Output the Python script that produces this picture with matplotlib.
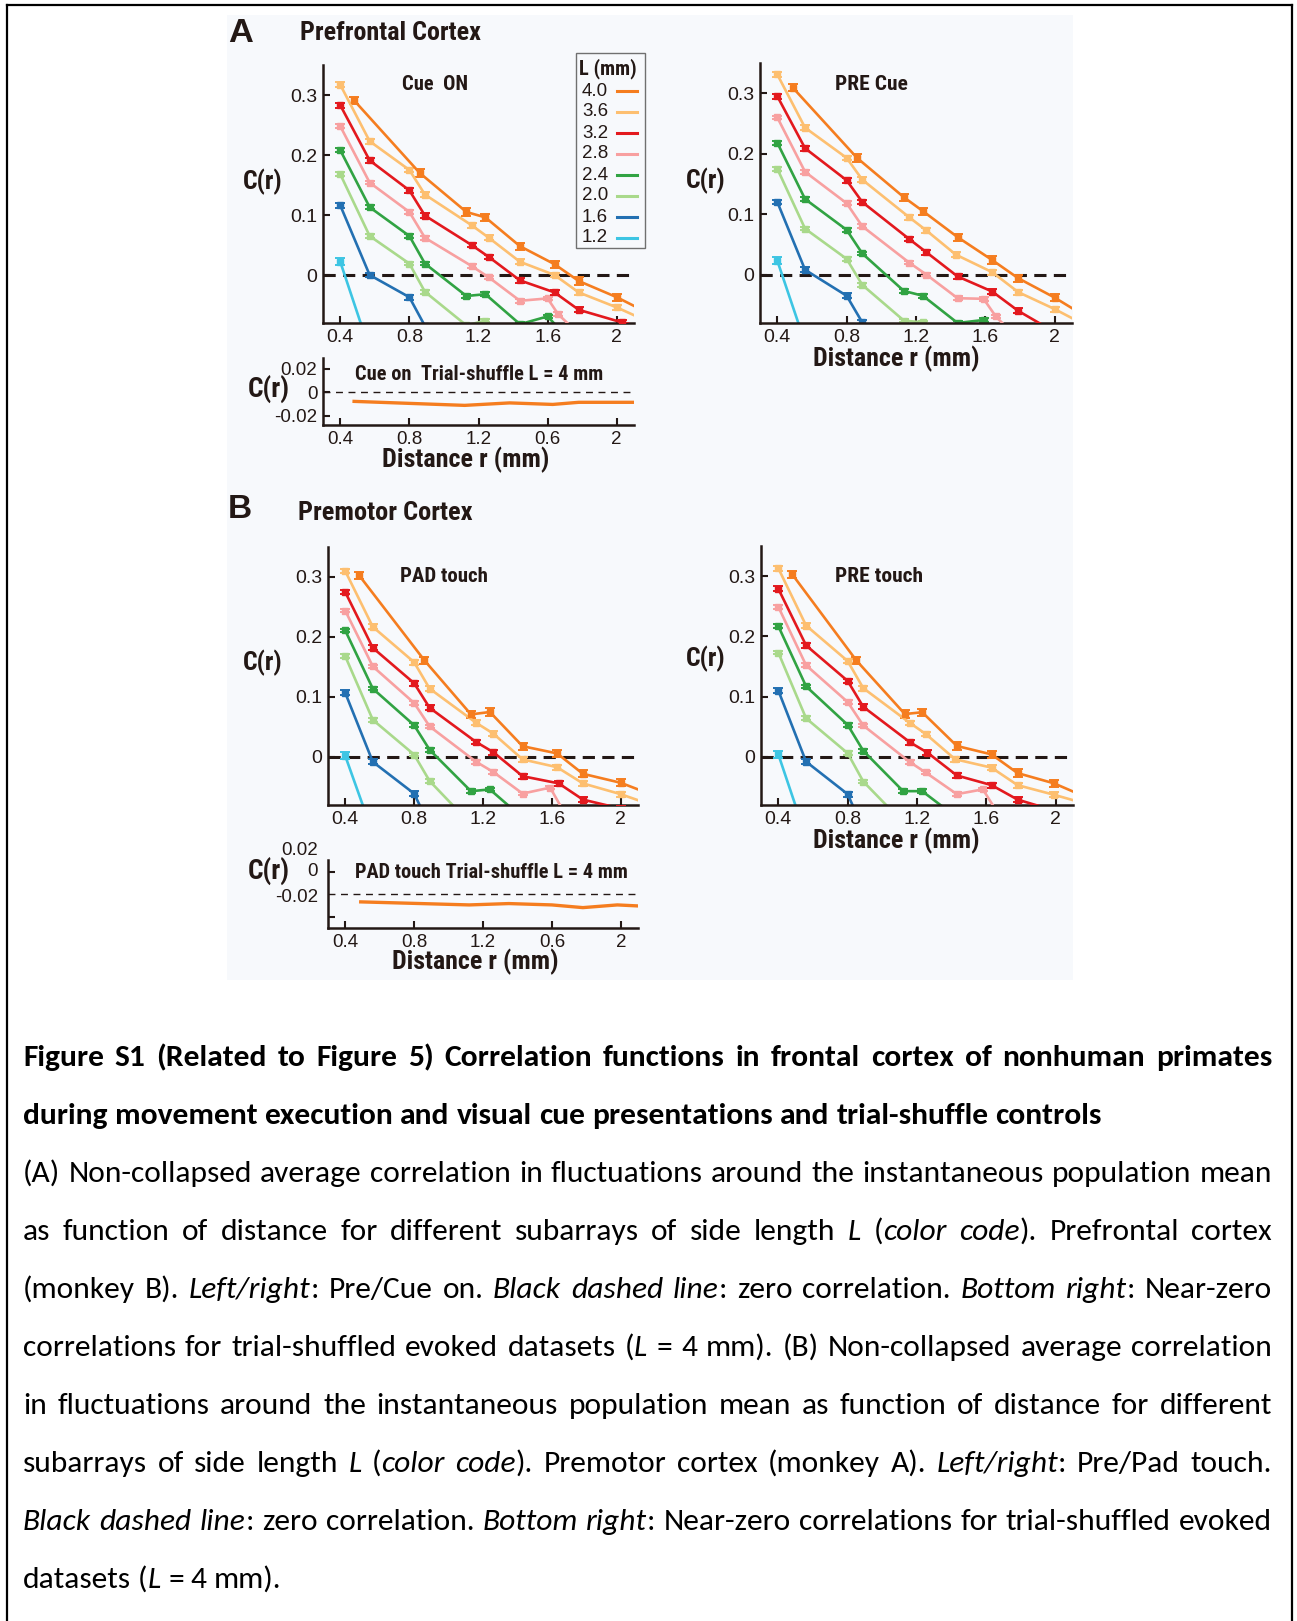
import os
import matplotlib
matplotlib.use('Agg')
import matplotlib.pyplot as plt
from matplotlib import font_manager
from matplotlib.font_manager import FontProperties
from matplotlib.patches import Rectangle
from matplotlib.lines import Line2D

W, H, DPI = 1297, 1621, 100

# ---- data ----
L_VALUES = ['4.0', '3.6', '3.2', '2.8', '2.4', '2.0', '1.6', '1.2']
L_COLORS = ['#f57d1f', '#fdbf70', '#e3191e', '#f8a0a0', '#31a343', '#a9d98b', '#2370b2', '#3dc5e3']
L_ERR = [0.006, 0.004, 0.004, 0.003, 0.003, 0.003, 0.004, 0.006]

X_TICKS = [0.4, 0.8, 1.2, 1.6, 2.0]
X_LABELS = ['0.4', '0.8', '1.2', '1.6', '2']
X_LABELS_SHUF = ['0.4', '0.8', '1.2', '0.6', '2']

CUE_ON_R = [
    [0.48, 0.86, 1.13, 1.24, 1.44, 1.64, 1.78, 2.0, 2.2],
    [0.4, 0.57, 0.8, 0.89, 1.16, 1.26, 1.44, 1.64, 1.78, 2.0, 2.2],
    [0.4, 0.57, 0.8, 0.89, 1.16, 1.26, 1.44, 1.64, 1.78, 2.03, 2.2],
    [0.4, 0.57, 0.8, 0.89, 1.16, 1.26, 1.44, 1.6, 1.66, 1.75],
    [0.4, 0.57, 0.8, 0.89, 1.13, 1.24, 1.44, 1.6, 1.7],
    [0.4, 0.57, 0.8, 0.89, 1.13, 1.24, 1.35],
    [0.4, 0.57, 0.8, 0.89],
    [0.4, 0.57],
]
CUE_ON_C = [
    [0.291, 0.170, 0.105, 0.096, 0.048, 0.018, -0.010, -0.037, -0.066],
    [0.317, 0.223, 0.175, 0.134, 0.083, 0.062, 0.022, 0.0, -0.029, -0.054, -0.080],
    [0.283, 0.191, 0.141, 0.099, 0.050, 0.030, -0.009, -0.029, -0.058, -0.079, -0.090],
    [0.248, 0.154, 0.105, 0.062, 0.015, -0.004, -0.043, -0.039, -0.065, -0.090],
    [0.208, 0.113, 0.065, 0.019, -0.035, -0.032, -0.082, -0.069, -0.100],
    [0.168, 0.065, 0.019, -0.028, -0.084, -0.076, -0.100],
    [0.116, 0.0, -0.037, -0.085],
    [0.022, -0.125],
]

PRE_CUE_R = [
    [0.49, 0.86, 1.13, 1.24, 1.44, 1.64, 1.79, 2.0, 2.2],
    [0.4, 0.56, 0.8, 0.89, 1.16, 1.26, 1.43, 1.64, 1.79, 2.0, 2.2],
    [0.4, 0.56, 0.8, 0.89, 1.16, 1.26, 1.44, 1.64, 1.79, 2.0],
    [0.4, 0.56, 0.8, 0.89, 1.16, 1.26, 1.44, 1.59, 1.66, 1.8],
    [0.4, 0.56, 0.8, 0.89, 1.13, 1.24, 1.44, 1.59, 1.7],
    [0.4, 0.56, 0.8, 0.89, 1.13, 1.24, 1.44],
    [0.4, 0.56, 0.8, 0.89],
    [0.4, 0.56],
]
PRE_CUE_C = [
    [0.309, 0.193, 0.128, 0.105, 0.062, 0.024, -0.006, -0.038, -0.073],
    [0.331, 0.243, 0.193, 0.157, 0.095, 0.073, 0.033, 0.004, -0.029, -0.057, -0.087],
    [0.295, 0.209, 0.156, 0.120, 0.059, 0.037, -0.003, -0.028, -0.060, -0.095],
    [0.260, 0.170, 0.118, 0.080, 0.020, 0.0, -0.039, -0.040, -0.069, -0.110],
    [0.218, 0.125, 0.074, 0.035, -0.027, -0.035, -0.080, -0.075, -0.100],
    [0.175, 0.076, 0.026, -0.017, -0.076, -0.079, -0.120],
    [0.120, 0.008, -0.035, -0.079],
    [0.023, -0.113],
]

PAD_R = [
    [0.48, 0.86, 1.13, 1.24, 1.43, 1.63, 1.78, 2.0, 2.2],
    [0.4, 0.56, 0.8, 0.89, 1.16, 1.26, 1.43, 1.63, 1.78, 2.0, 2.2],
    [0.4, 0.56, 0.8, 0.89, 1.16, 1.26, 1.43, 1.64, 1.78, 2.0],
    [0.4, 0.56, 0.8, 0.89, 1.16, 1.26, 1.43, 1.59, 1.7],
    [0.4, 0.56, 0.8, 0.89, 1.13, 1.24, 1.44],
    [0.4, 0.56, 0.8, 0.89, 1.13],
    [0.4, 0.56, 0.8, 0.89],
    [0.4, 0.56],
]
PAD_C = [
    [0.303, 0.161, 0.071, 0.075, 0.018, 0.006, -0.028, -0.043, -0.065],
    [0.310, 0.217, 0.158, 0.114, 0.057, 0.039, -0.004, -0.017, -0.044, -0.062, -0.082],
    [0.275, 0.182, 0.123, 0.082, 0.025, 0.008, -0.032, -0.044, -0.071, -0.086],
    [0.244, 0.151, 0.090, 0.051, -0.008, -0.025, -0.061, -0.051, -0.107],
    [0.211, 0.114, 0.053, 0.012, -0.057, -0.054, -0.104],
    [0.168, 0.062, 0.004, -0.040, -0.112],
    [0.107, -0.008, -0.061, -0.115],
    [0.002, -0.127],
]

PRE_TOUCH_R = [
    [0.48, 0.85, 1.13, 1.23, 1.43, 1.63, 1.78, 1.99, 2.2],
    [0.4, 0.56, 0.8, 0.89, 1.16, 1.25, 1.42, 1.63, 1.78, 1.99, 2.2],
    [0.4, 0.56, 0.8, 0.89, 1.16, 1.26, 1.43, 1.63, 1.78, 2.0],
    [0.4, 0.56, 0.8, 0.89, 1.16, 1.25, 1.43, 1.58, 1.7],
    [0.4, 0.56, 0.8, 0.89, 1.12, 1.23, 1.44],
    [0.4, 0.56, 0.8, 0.89, 1.13],
    [0.4, 0.56, 0.8, 0.89],
    [0.4, 0.56],
]
PRE_TOUCH_C = [
    [0.303, 0.160, 0.071, 0.074, 0.018, 0.004, -0.027, -0.044, -0.070],
    [0.313, 0.218, 0.159, 0.114, 0.056, 0.038, -0.004, -0.018, -0.047, -0.063, -0.080],
    [0.279, 0.185, 0.126, 0.083, 0.024, 0.007, -0.031, -0.047, -0.071, -0.090],
    [0.249, 0.152, 0.091, 0.052, -0.009, -0.026, -0.062, -0.054, -0.109],
    [0.217, 0.117, 0.053, 0.010, -0.057, -0.057, -0.103],
    [0.173, 0.064, 0.006, -0.041, -0.112],
    [0.110, -0.008, -0.062, -0.120],
    [0.004, -0.133],
]

SHUF_A_R = [0.48, 1.12, 1.38, 1.63, 1.78, 2.1]
SHUF_A_C = [-0.0079, -0.0113, -0.0092, -0.0105, -0.0087, -0.0087]
SHUF_B_R = [0.49, 1.12, 1.35, 1.6, 1.78, 1.98, 2.1]
SHUF_B_C = [-0.0068, -0.0095, -0.0083, -0.0095, -0.0119, -0.0095, -0.0104]

CAPTION = [
    (True, True, 'Figure S1 (Related to Figure 5) Correlation functions in frontal cortex of nonhuman primates'),
    (True, False, 'during movement execution and visual cue presentations and trial-shuffle controls'),
    (False, True, '(A) Non-collapsed average correlation in fluctuations around the instantaneous population mean'),
    (False, True, 'as function of distance for different subarrays of side length *L* (*color code*). Prefrontal cortex'),
    (False, True, '(monkey B). *Left/right*: Pre/Cue on. *Black dashed line*: zero correlation. *Bottom right*: Near-zero'),
    (False, True, 'correlations for trial-shuffled evoked datasets (*L* = 4 mm). (B) Non-collapsed average correlation'),
    (False, True, 'in fluctuations around the instantaneous population mean as function of distance for different'),
    (False, True, 'subarrays of side length *L* (*color code*). Premotor cortex (monkey A). *Left/right*: Pre/Pad touch.'),
    (False, True, '*Black dashed line*: zero correlation. *Bottom right*: Near-zero correlations for trial-shuffled evoked'),
    (False, False, 'datasets (*L* = 4 mm).'),
]

# ---- fonts / style ----
names = {f.name for f in font_manager.fontManager.ttflist}
files = [f.fname for f in font_manager.fontManager.ttflist]
NARROW_FP = None
for pref in ['liberationsansnarrow-bold.', 'notosans-condensedbold.', 'robotocondensed-bold.',
             'arialnarrowbold', 'dejavusanscondensed-bold.']:
    hits = [p for p in files if os.path.basename(p).lower().startswith(pref)]
    if hits:
        NARROW_FP = FontProperties(fname=hits[0])
        break
if NARROW_FP is None:
    NARROW_FP = FontProperties(family='Liberation Sans', weight='bold')

REG = 'Liberation Sans'
CAP_FONT = 'Carlito' if 'Carlito' in names else ('Lato' if 'Lato' in names else 'DejaVu Sans')
INK = '#231815'
BG = '#f7f9fc'
TICK_SIZE = 14
plt.rcParams['font.family'] = [REG, 'DejaVu Sans']

fig = plt.figure(figsize=(W / DPI, H / DPI), dpi=DPI)
fig.patch.set_facecolor('white')
renderer = fig.canvas.get_renderer()


def fx(x):
    return x / W


def fy(y):
    return 1 - y / H


def px_axes(x0, y0, x1, y1):
    ax = fig.add_axes([fx(x0), fy(y1), (x1 - x0) / W, (y1 - y0) / H])
    ax.patch.set_alpha(0)
    return ax


def label(x, y, s, width, size=14, ha='center', narrow=True):
    if narrow:
        fp = NARROW_FP.copy()
    else:
        fp = FontProperties(family=REG, weight='bold')
    fp.set_size(size)
    t = fig.text(fx(x), fy(y), s, fontproperties=fp, ha=ha, va='center', color=INK)
    w = t.get_window_extent(renderer).width
    t.set_fontsize(size * width / w)
    return t


def style_axes(ax, yticks, ylabels, xlabels, size=TICK_SIZE):
    for s in ['top', 'right']:
        ax.spines[s].set_visible(False)
    for s in ['left', 'bottom']:
        ax.spines[s].set_color(INK)
        ax.spines[s].set_linewidth(1.8)
    ax.set_xticks(X_TICKS)
    ax.set_xticklabels(xlabels)
    ax.set_yticks(yticks)
    ax.set_yticklabels(ylabels)
    ax.tick_params(direction='in', length=5, width=1.5, color=INK, labelcolor=INK, labelsize=size)
    ax.tick_params(axis='x', pad=4)
    ax.tick_params(axis='y', pad=4)


def main_panel(box, rs, cs):
    ax = px_axes(*box)
    ax.set_xlim(0.3, 2.1)
    ax.set_ylim(-0.08, 0.35)
    ax.axhline(0, color=INK, lw=2.2, ls=(0, (4, 2.4)), zorder=1)
    for i in reversed(range(len(L_VALUES))):
        ax.errorbar(rs[i], cs[i], yerr=L_ERR[i], color=L_COLORS[i], lw=1.9, marker='s', ms=4.4,
                    capsize=3.5, capthick=1.4, elinewidth=1.4, zorder=2 + (8 - i) * 0.1)
    style_axes(ax, [0, 0.1, 0.2, 0.3], ['0', '0.1', '0.2', '0.3'], X_LABELS)
    return ax


def shuffle_panel(box, rs, cs, ylim):
    ax = px_axes(*box)
    ax.set_xlim(0.3, 2.1)
    ax.set_ylim(*ylim)
    ax.axhline(0, color=INK, lw=1.0, ls=(0, (5, 4)), zorder=1)
    ax.plot(rs, cs, color=L_COLORS[0], lw=2.4, zorder=2)
    return ax


# background of the figure image and page frame
fig.add_artist(Rectangle((fx(227), fy(980)), (1073 - 227) / W, (980 - 15) / H,
                         transform=fig.transFigure, facecolor=BG, edgecolor='none', zorder=-1))
for xs, ys in [([7, 7], [5, 1630]), ([1292, 1292], [5, 1630]), ([7, 1292], [5, 5])]:
    fig.add_artist(Line2D([fx(v) for v in xs], [fy(v) for v in ys], transform=fig.transFigure,
                          color='black', lw=1.6))

# ---- panel A ----
main_panel((323, 65, 634, 323), CUE_ON_R, CUE_ON_C)
main_panel((760, 63, 1072, 323), PRE_CUE_R, PRE_CUE_C)
ax = shuffle_panel((323, 358, 634, 425), SHUF_A_R, SHUF_A_C, (-0.028, 0.029))
style_axes(ax, [-0.02, 0, 0.02], ['-0.02', '0', '0.02'], X_LABELS_SHUF, size=13.5)

label(228, 34, 'A', width=25, ha='left', narrow=False)
label(300, 33, 'Prefrontal Cortex', width=182, ha='left')
label(402, 84, 'Cue  ON', width=66, ha='left')
label(835, 84, 'PRE Cue', width=73, ha='left')
label(263, 182, 'C(r)', width=40)
label(706, 181, 'C(r)', width=40)
label(896, 359, 'Distance r (mm)', width=167)
label(269, 390, 'C(r)', width=42)
label(355, 375, 'Cue on  Trial-shuffle L = 4 mm', width=248, ha='left')
label(466, 460, 'Distance r (mm)', width=168)

# legend
fig.add_artist(Rectangle((fx(576), fy(248)), (645 - 576) / W, (248 - 53) / H, transform=fig.transFigure,
                         facecolor='none', edgecolor='#707070', lw=1.0))
label(608, 69, 'L (mm)', width=58)
for i, (lab, col) in enumerate(zip(L_VALUES, L_COLORS)):
    y = 91 + 21 * i
    fig.text(fx(608), fy(y), lab, ha='right', va='center', fontsize=13.5, family=REG, color=INK)
    fig.add_artist(Line2D([fx(617), fx(637)], [fy(y), fy(y)], transform=fig.transFigure,
                          color=col, lw=2.2))

# ---- panel B ----
main_panel((328, 547, 638, 805), PAD_R, PAD_C)
main_panel((761, 546, 1073, 805), PRE_TOUCH_R, PRE_TOUCH_C)
ax = shuffle_panel((328, 860, 638, 928), SHUF_B_R, SHUF_B_C, (-0.030, 0.0304))
style_axes(ax, [-0.02, 0.02], ['', ''], X_LABELS_SHUF, size=13.5)
for s, y in [('0.02', 850.7), ('0', 871.7), ('-0.02', 898)]:
    fig.text(fx(318), fy(y), s, ha='right', va='center', fontsize=13.5, family=REG, color=INK)

label(228, 509, 'B', width=24, ha='left', narrow=False)
label(298, 513, 'Premotor Cortex', width=175, ha='left')
label(400, 576, 'PAD touch', width=88, ha='left')
label(835, 576, 'PRE touch', width=88, ha='left')
label(263, 663, 'C(r)', width=40)
label(706, 659, 'C(r)', width=40)
label(896, 841, 'Distance r (mm)', width=167)
label(269, 872, 'C(r)', width=42)
label(355, 872, 'PAD touch Trial-shuffle L = 4 mm', width=273, ha='left')
label(475, 962, 'Distance r (mm)', width=167)

# ---- caption (justified) ----
CAP_LEFT, CAP_RIGHT, CAP_BASE, CAP_STEP = 23, 1272, 1066, 58


def parse(line):
    words, ital = [], False
    for w in line.split(' '):
        runs = []
        for k, p in enumerate(w.split('*')):
            if k > 0:
                ital = not ital
            if p:
                runs.append((p, ital))
        words.append(runs)
    return words


def props(bold, ital, size):
    return dict(family=[CAP_FONT, 'DejaVu Sans'], fontsize=size, weight='bold' if bold else 'normal',
                style='italic' if ital else 'normal', color='black')


def text_w(s, **kw):
    t = fig.text(0, 0, s, **kw)
    w = t.get_window_extent(renderer).width
    t.remove()
    return w


def space_w(bold, size):
    return text_w('a a', **props(bold, False, size)) - text_w('aa', **props(bold, False, size))


# pick the caption size so the widest justified line fits with ordinary spaces
cap_size = 18.0
natural = []
for bold, just, line in CAPTION:
    if not just:
        continue
    words = parse(line)
    tot = sum(text_w(p, **props(bold, it, cap_size)) for w in words for p, it in w)
    natural.append(tot + space_w(bold, cap_size) * (len(words) - 1))
cap_size *= (CAP_RIGHT - CAP_LEFT) / max(natural) * 0.99

for n, (bold, just, line) in enumerate(CAPTION):
    words = parse(line)
    widths = [[text_w(p, **props(bold, it, cap_size)) for p, it in w] for w in words]
    total = sum(sum(ws) for ws in widths)
    if just:
        gap = (CAP_RIGHT - CAP_LEFT - total) / (len(words) - 1)
    else:
        gap = space_w(bold, cap_size)
    x = CAP_LEFT
    y = CAP_BASE + CAP_STEP * n
    for w, ws in zip(words, widths):
        for (p, it), pw in zip(w, ws):
            fig.text(fx(x), fy(y), p, ha='left', va='baseline', **props(bold, it, cap_size))
            x += pw
        x += gap

fig.savefig('out.png', dpi=DPI, facecolor='white')
